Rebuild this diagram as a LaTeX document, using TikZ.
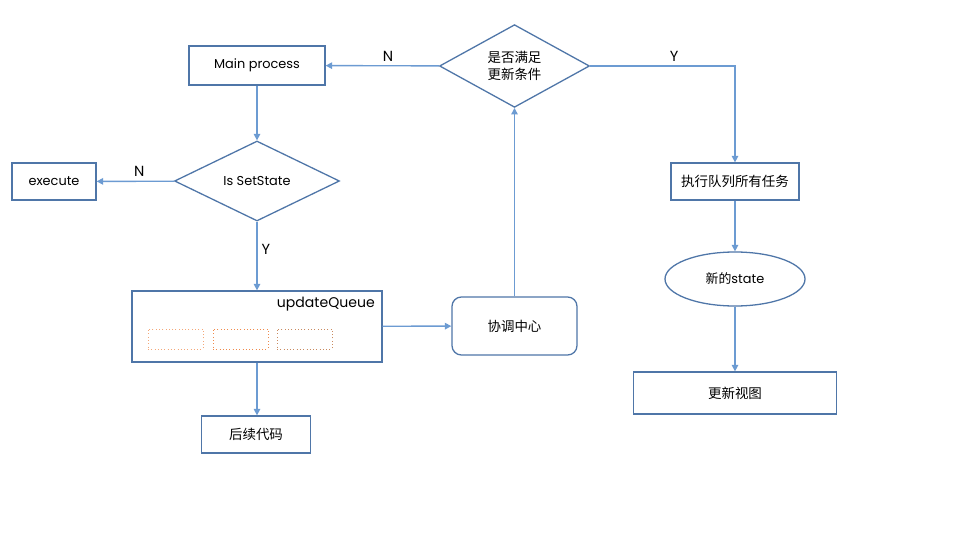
\documentclass[tikz,border=0pt]{standalone}
\usepackage{fontspec}
\setmainfont{Poppins}
\newfontfamily\cjk{Noto Sans CJK SC}
\usepackage{xcolor}
\usetikzlibrary{shapes.geometric,arrows.meta}

\definecolor{linkblue}{HTML}{6C9BD2}
\definecolor{boxblue}{HTML}{4F76A8}
\definecolor{dotorange}{HTML}{F08A4B}
\definecolor{dotbrown}{HTML}{C98A60}

\tikzset{
    box/.style={draw=boxblue, line width=1.1pt, fill=white, inner sep=0pt,
        font=\fontsize{11}{13}\selectfont},
    cjkbox/.style={box, font=\cjk\fontsize{11.5}{14}\selectfont},
    decision/.style={box, diamond},
    flow/.style={draw=linkblue, line width=1.2pt, -{Triangle[length=5.5pt,width=5.5pt]}},
    slot/.style={draw, dotted, line width=0.8pt, minimum width=1.65cm, minimum height=0.6cm},
    yn/.style={font=\fontsize{12.5}{14}\selectfont}
}

\begin{document}
\begin{tikzpicture}[x=0.03cm, y=-0.03cm]

    % Canvas
    \fill[white] (0,0) rectangle (960,540);

    % Left column
    \node[box, minimum width=4.08cm, minimum height=1.17cm] (main) at (257,65.5) {Main process};
    \node[decision, minimum width=4.95cm, minimum height=2.4cm] (issetstate) at (257,181) {Is SetState};
    \node[box, minimum width=2.52cm, minimum height=1.11cm] (execute) at (54,181.5) {execute};
    \node[box, minimum width=7.5cm, minimum height=2.13cm] (queue) at (257,326.5) {};
    \node[font=\fontsize{12}{14}\selectfont, anchor=north east, inner sep=0pt] (queuelabel) at (375,297) {updateQueue};
    \node[cjkbox, minimum width=3.27cm, minimum height=1.11cm] (after) at (256,434.5) {后续代码};

    % Queue slots
    \node[slot, draw=dotorange!75] (slotA) at (175.5,339) {};
    \node[slot, draw=dotorange] (slotB) at (240.5,339) {};
    \node[slot, draw=dotbrown] (slotC) at (304.5,339) {};

    % Middle column
    \node[cjkbox, rounded corners=8pt, minimum width=3.75cm, minimum height=1.74cm] (center) at (514.5,326) {协调中心};
    \node[decision, font=\cjk\fontsize{11.5}{14}\selectfont, minimum width=4.5cm, minimum height=2.37cm, align=center] (check) at (514.5,66) {是否满足\\更新条件};

    % Right column
    \node[cjkbox, minimum width=3.84cm, minimum height=1.11cm] (runall) at (735,181.5) {执行队列所有任务};
    \node[box, ellipse, minimum width=4.2cm, minimum height=1.62cm] (newstate) at (735,279) {{\cjk 新的}state};
    \node[cjkbox, minimum width=6.09cm, minimum height=1.26cm] (render) at (735,393) {更新视图};

    % Connectors
    \draw[flow] (main) -- (issetstate);
    \draw[flow] (issetstate) -- node[yn, above, pos=0.45] {N} (execute);
    \draw[flow] (issetstate) -- node[yn, right, pos=0.4] {Y} (queue);
    \draw[flow] (queue) -- (center);
    \draw[flow] (queue.south) -- (queue.south |- after.north);
    \draw[flow] (center) -- (check);
    \draw[flow] (check) -- node[yn, above, pos=0.45] {N} (main);
    \draw[flow] (check.east) -- node[yn, above, pos=0.58] {Y} (runall.north |- check.east) -- (runall);
    \draw[flow] (runall) -- (newstate);
    \draw[flow] (newstate) -- (render);

\end{tikzpicture}
\end{document}
